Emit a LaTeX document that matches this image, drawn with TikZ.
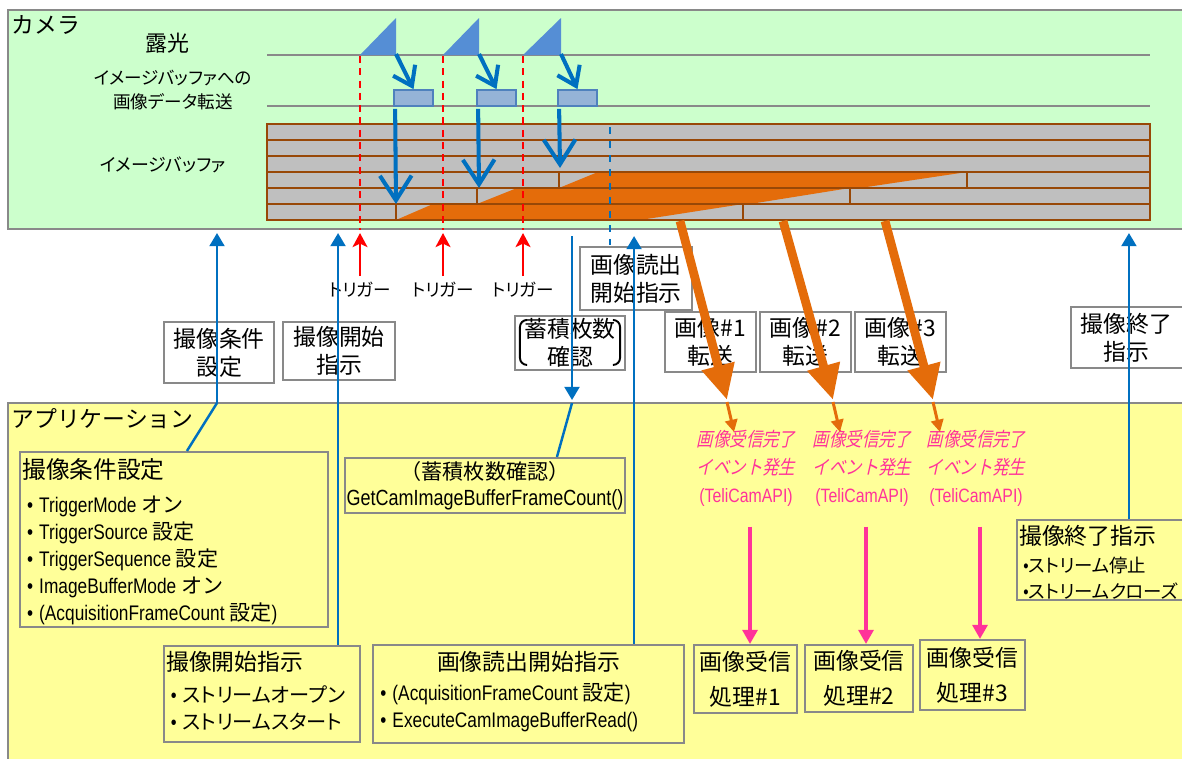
\documentclass[tikz,border=0pt]{standalone}
\usepackage{fontspec}
\setmainfont{Noto Sans CJK JP}
\newfontfamily\latn{Liberation Sans}[FakeStretch=0.82]
\newfontfamily\kana{Noto Sans CJK JP}[RawFeature=+palt]
\newfontfamily\evt{Noto Sans CJK JP}[FakeSlant=0.22,FakeStretch=0.85]
\usetikzlibrary{positioning,fit,calc,arrows.meta}

\definecolor{camgreen}{HTML}{CCFFCC}
\definecolor{appyellow}{HTML}{FFFF99}
\definecolor{framegray}{HTML}{898989}
\definecolor{ctlblue}{HTML}{0070C0}
\definecolor{expblue}{HTML}{558ED5}
\definecolor{blkfill}{HTML}{95B3D7}
\definecolor{blkedge}{HTML}{4F81BD}
\definecolor{bufgray}{HTML}{BFBFBF}
\definecolor{bufbrown}{HTML}{984807}
\definecolor{xferorange}{HTML}{E46C0A}
\definecolor{evtpink}{HTML}{FF3399}

\newcommand{\bul}{{\latn •}\hspace{3.5pt}}

\begin{document}
\begin{tikzpicture}[
    x=0.02cm, y=-0.02cm,
    region/.style={draw=framegray, line width=1.2pt, inner sep=0pt},
    lblbox/.style={draw=framegray, fill=white, line width=1.2pt, inner sep=0pt},
    lbltext/.style={align=center, inner sep=0pt, font=\fontsize{13}{16}\selectfont},
    appbox/.style={draw=framegray, fill=appyellow, line width=1.2pt, inner sep=0pt},
    boxtext/.style={inner sep=0pt, align=left, anchor=north west},
    timeline/.style={draw=framegray, line width=1.1pt},
    cell/.style={draw=bufbrown, line width=1.3pt},
    ctrl/.style={draw=ctlblue, line width=1.4pt, shorten >=1.7pt, -{Triangle[length=7.5pt,width=8.5pt]}},
    ctrlline/.style={draw=ctlblue, line width=1.4pt},
    expose/.style={draw=ctlblue, line width=2.3pt, -{Straight Barb[length=10pt,width=14pt]}},
    store/.style={draw=ctlblue, line width=2.3pt, -{Straight Barb[length=14pt,width=18pt]}},
    trigline/.style={draw=red, line width=1.2pt, dash pattern=on 4pt off 3pt},
    trig/.style={draw=red, line width=1.3pt, shorten >=1.7pt, -{Stealth[length=8pt,width=8.5pt,inset=2pt]}},
    bigxfer/.style={draw=xferorange, line width=5pt, -{Triangle[length=20pt,width=18pt]}},
    smallxfer/.style={draw=xferorange, line width=1.7pt, -{Triangle[length=7pt,width=7pt]}},
    evtarrow/.style={draw=evtpink, line width=1.8pt, -{Triangle[length=8pt,width=8.5pt]}},
    evttext/.style={align=center, inner sep=0pt, text=evtpink, font=\fontsize{11}{16}\selectfont}
]
\clip (0,0) rectangle (1182,758);
\fill[white] (0,0) rectangle (1182,758);

% Camera side
\node[region, fill=camgreen, fit={(8,10)(1195,229)}] (cam) {};
\node[anchor=north west, inner sep=0pt, font=\fontsize{13}{16}\selectfont] (camlbl) at (11,15) {カメラ};
\node[font=\fontsize{12.5}{15}\selectfont] (explbl) at (167,43) {露光};
\node[align=center, font=\kana\fontsize{10}{14.2}\selectfont] (xferlbl) at (173,90) {イメージバッファへの\\画像データ転送};
\node[font=\kana\fontsize{10.2}{14}\selectfont] (buflbl) at (163,165) {イメージバッファ};

\coordinate (expL) at (267,55);  \coordinate (expR) at (1150,55);
\coordinate (xferL) at (267,106); \coordinate (xferR) at (1150,106);
\draw[timeline] (expL) -- (expR);
\draw[timeline] (xferL) -- (xferR);

% Image buffer
\foreach \y in {124,140,156}
  \draw[cell, fill=bufgray] (267,\y) rectangle (1150,{\y+16});
\fill[bufgray] (267,172) rectangle (1150,220);
\fill[xferorange] (396,220) -- (433,204) -- (743,204) -- (640,220) -- cycle;
\fill[xferorange] (477,204) -- (517,188) -- (850,188) -- (750,204) -- cycle;
\fill[xferorange] (559,188) -- (598,172) -- (967,172) -- (860,188) -- cycle;
\foreach \y/\a/\b in {172/559/967,188/477/850,204/396/743}
  \draw[cell] (267,\y) rectangle (\a,{\y+16}) (\a,\y) rectangle (\b,{\y+16}) (\b,\y) rectangle (1150,{\y+16});

% Exposures, transfers and triggers
\foreach \i/\tx/\ex/\bx/\tip in {1/360/396/394/204, 2/443/479/477/188, 3/523/561/558/168} {
  \fill[expblue] (\tx,55) -- (\ex,18) -- (\ex,55) -- cycle;
  \node[draw=blkedge, fill=blkfill, line width=1pt, inner sep=0pt, fit={(\bx,90)({\bx+39},106)}] (blk\i) {};
  \coordinate (expend\i) at (\ex,54);
  \draw[expose] (expend\i) -- (blk\i.north);
  \coordinate (tip\i) at ({\bx+2},\tip);
  \draw[store] ($(blk\i.south west)+(2,2)$) -- (tip\i);
  \coordinate (trigtop\i) at (\tx,56);
  \draw[trigline] (trigtop\i) -- (trigtop\i |- cam.south);
  \node[inner sep=0pt, font=\kana\fontsize{10}{12}\selectfont] (trig\i) at (\tx,290) {トリガー};
  \draw[trig] ($(trig\i.north)+(0,-6)$) -- (trig\i.north |- cam.south);
}
\coordinate (readmark) at (610,127);
\draw[ctlblue, line width=1.2pt, dash pattern=on 4pt off 4pt] (readmark) -- ++(0,118);

% Labels between camera and application
\node[lblbox, fit={(164,322)(274,383)}] (condlbl) {};
\node[lbltext] (condlbltxt) at (condlbl.center) {撮像条件\\設定};
\node[lblbox, fit={(283,322)(395,380)}] (startlbl) {};
\node[lbltext] (startlbltxt) at (startlbl.center) {撮像開始\\指示};
\node[lblbox, fit={(515,316)(625,370)}] (countlbl) {};
\node[lbltext] (countlbltxt) at (countlbl.center) {蓄積枚数\\確認};
\draw[line width=1.1pt, rounded corners=4pt] ($(countlbl.north west)+(13,5)$) -- ++(-7,0) -- ++(0,45) -- ++(7,0);
\draw[line width=1.1pt, rounded corners=4pt] ($(countlbl.north east)+(-13,5)$) -- ++(7,0) -- ++(0,45) -- ++(-7,0);
\node[lblbox, fit={(580,247)(692,310)}] (readlbl) {};
\node[lbltext] (readlbltxt) at (readlbl.center) {画像読出\\開始指示};
\foreach \i/\x in {1/665,2/760,3/855} {
  \node[lblbox, fit={(\x,312)({\x+91},372)}] (xferbox\i) {};
  \node[lbltext] (xferboxtxt\i) at (xferbox\i.center) {画像\#\i\\転送};
}
\node[lblbox, fit={(1071,307)(1192,368)}] (endlbl) {};
\node[lbltext] (endlbltxt) at ($(endlbl.center)+(-5,0)$) {撮像終了\\指示};

% Application side
\node[region, fill=appyellow, fit={(8,403)(1195,765)}] (app) {};
\node[anchor=north west, inner sep=0pt, font=\fontsize{13}{16}\selectfont] (applbl) at (11,408) {アプリケーション};

\node[appbox, fit={(20,452)(328,627)}] (condset) {};
\node[boxtext, font=\fontsize{12}{15.4}\selectfont] (condtxt) at ($(condset.north west)+(3,7)$)
  {{\fontsize{13.5}{16}\selectfont 撮像条件設定}\\[4pt]
   \ \bul{\latn TriggerMode} オン\\
   \ \bul{\latn TriggerSource} 設定\\
   \ \bul{\latn TriggerSequence} 設定\\
   \ \bul{\latn ImageBufferMode} オン\\
   \ \bul{\latn (AcquisitionFrameCount} 設定{\latn )}};

\node[appbox, fit={(345,458)(625,513)}] (getcount) {};
\node[lbltext, font=\fontsize{12}{15}\selectfont] (getcounttxt) at (getcount.center)
  {（蓄積枚数確認）\\{\latn\fontsize{12.5}{15}\selectfont GetCamImageBufferFrameCount()}};

\node[appbox, fit={(164,646)(360,742)}] (startset) {};
\node[boxtext, font=\kana\fontsize{11.5}{15.4}\selectfont] (starttxt) at ($(startset.north west)+(3,6)$)
  {{\fontsize{13}{16}\selectfont 撮像開始指示}\\[3pt]
   \ \bul ストリームオープン\\
   \ \bul ストリームスタート};

\node[appbox, fit={(373,645)(684,743)}] (readset) {};
\node[inner sep=0pt, font=\fontsize{13}{16}\selectfont] (readtitle) at ($(readset.north)+(0,18)$) {画像読出開始指示};
\node[boxtext, font=\fontsize{12}{15.4}\selectfont] (readtxt) at ($(readset.north west)+(8,38)$)
  {\bul{\latn (AcquisitionFrameCount} 設定{\latn )}\\
   \bul{\latn ExecuteCamImageBufferRead()}};

\node[appbox, fit={(1017,520)(1195,600)}] (endset) {};
\node[boxtext, font=\kana\fontsize{10.5}{15}\selectfont] (endtxt) at ($(endset.north west)+(3,6)$)
  {{\fontsize{13}{16}\selectfont 撮像終了指示}\\[1pt]
   \ {\latn •}ストリーム停止\\
   \ {\latn •}ストリームクローズ};

\foreach \i/\xa/\ya/\xb/\yb in {1/694/645/797/713, 2/805/645/913/712, 3/920/640/1025/710} {
  \node[appbox, fit={(\xa,\ya)(\xb,\yb)}] (recv\i) {};
  \node[lbltext, font=\fontsize{13}{20}\selectfont] (recvtxt\i) at (recv\i.center) {画像受信\\処理\#\i};
}

\foreach \i/\x in {1/746,2/862,3/976}
  \node[evttext] (evt\i) at (\x,468) {{\evt 画像受信完了}\\{\evt イベント発生}\\{\latn (TeliCamAPI)}};

% Control messages
\coordinate (condknee) at (217,403);
\draw[ctrlline] ($(condset.north west)+(168,0)$) -- (condknee);
\draw[ctrl] (condknee) -- (condknee |- cam.south);
\coordinate (startfoot) at ($(startset.north east)+(-23,0)$);
\draw[ctrl] (startfoot) -- (startfoot |- cam.south);
\coordinate (counttop) at (572,236);
\coordinate (countknee) at (572,403);
\draw[ctrl] (counttop) -- (countknee);
\draw[ctrlline] (countknee) -- ($(getcount.north west)+(213,0)$);
\coordinate (readfoot) at ($(readset.north east)+(-51,0)$);
\draw[ctrl] (readfoot) -- ($(readfoot |- cam.south)+(0,3)$);
\coordinate (endfoot) at ($(endset.north west)+(113,0)$);
\draw[ctrl] (endfoot) -- (endfoot |- cam.south);

% Image transfers to the application
\foreach \i/\xa/\xb in {1/680/727, 2/783/833, 3/885/933} {
  \coordinate (xferstart\i) at (\xa,221);
  \coordinate (xferend\i) at (\xb,400);
  \draw[bigxfer] (xferstart\i) -- (xferend\i);
  \draw[smallxfer] ($(xferend\i)+(0,2)$) -- ($(xferend\i)+(7,32)$);
  \draw[evtarrow] ($(evt\i.south)+(4,20)$) -- ($(evt\i.south |- recv\i.north)+(4,0)$);
}
\end{tikzpicture}
\end{document}
